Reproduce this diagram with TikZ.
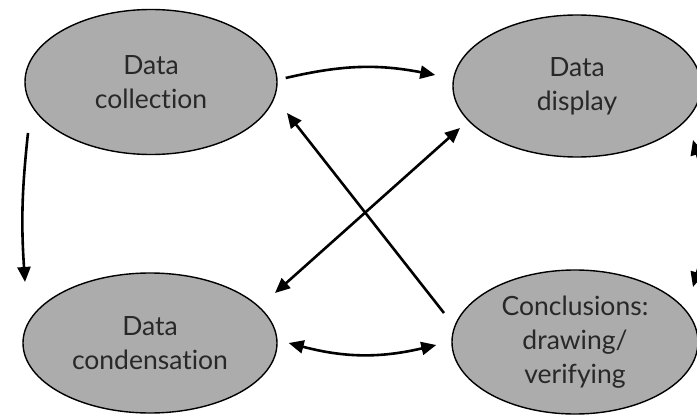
\documentclass[tikz,border=0pt]{standalone}
\usepackage{fontspec}
\setmainfont{Lato}[Ligatures={NoCommon,NoContextual}]
\usetikzlibrary{shapes.geometric,arrows.meta}
\definecolor{ellfill}{RGB}{172,172,172}
\definecolor{txt}{RGB}{40,40,40}
\tikzset{
  ell/.style={ellipse, draw=black, line width=1.4pt, fill=ellfill, inner sep=0pt,
    align=center, text=txt, font=\fontsize{26.5}{34}\selectfont},
  arr/.style={line width=2.6pt, -{Triangle[length=15pt,width=13pt]}},
  darr/.style={line width=2.6pt, {Triangle[length=15pt,width=13pt]}-{Triangle[length=15pt,width=13pt]}}
}
\begin{document}
\begin{tikzpicture}[x=1pt,y=-1pt]
\useasboundingbox (0,0) rectangle (697,415);
\fill[white] (0,0) rectangle (697,415);
\node[ell, minimum width=252pt, minimum height=145pt] (tl) at (151,82) {Data\\collection};
\node[ell, minimum width=248pt, minimum height=142pt] (tr) at (577,86) {Data\\display};
\node[ell, minimum width=254pt, minimum height=140pt] (bl) at (150,343) {Data\\condensation};
\node[ell, minimum width=246pt, minimum height=144pt] (br) at (575,342) {Conclusions:\\drawing/\\verifying};
% top arrow
\draw[arr] ([shift={(8pt,4pt)}]tl.east) to[bend left=12] ([shift={(-17pt,11pt)}]tr.west);
% bottom double arrow
\draw[darr] ([shift={(11pt,0pt)}]bl.east) to[bend right=14] ([shift={(-15pt,-3pt)}]br.west);
% left arrow
\draw[arr] ([shift={(-123pt,-51pt)}]tl.center) to[bend right=5] ([shift={(-125pt,61pt)}]bl.center);
% right double arrow
\draw[darr] ([shift={(116pt,-54pt)}]tr.center) to[bend left=16] ([shift={(118pt,55pt)}]br.center);
% diagonals
\draw[arr] ([shift={(-131pt,29pt)}]br.center) -- ([shift={(136pt,-31pt)}]tl.center);
\draw[darr] ([shift={(-117pt,-42pt)}]tr.center) -- ([shift={(125pt,50pt)}]bl.center);
\end{tikzpicture}
\end{document}
